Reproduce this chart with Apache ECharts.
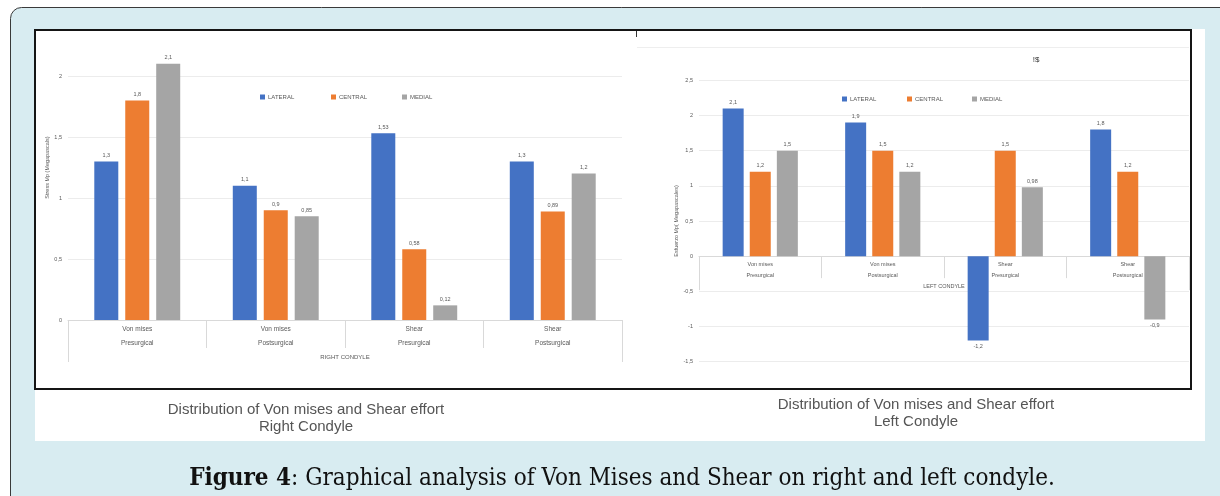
<!DOCTYPE html>
<html><head><meta charset="utf-8">
<script src="https://cdn.jsdelivr.net/npm/echarts@6/dist/echarts.min.js"></script>
<style>html,body{margin:0;padding:0;background:#fff}#c{width:1220px;height:496px}</style>
</head><body><div id="c"></div>
<script>
// ---- data ----
const seriesNames = ['LATERAL', 'CENTRAL', 'MEDIAL'];
const categories = ['Von mises\nPresurgical', 'Von mises\nPostsurgical', 'Shear\nPresurgical', 'Shear\nPostsurgical'];
const rightCondyleLateral = [1.3, 1.1, 1.53, 1.3];
const rightCondyleCentral = [1.8, 0.9, 0.58, 0.89];
const rightCondyleMedial = [2.1, 0.85, 0.12, 1.2];
const leftCondyleLateral = [2.1, 1.9, -1.2, 1.8];
const leftCondyleCentral = [1.2, 1.5, 1.5, 1.2];
const leftCondyleMedial = [1.5, 1.2, 0.98, -0.9];
const rightTicks = {min: 0, max: 2.5, interval: 0.5};
const leftTicks = {min: -1.5, max: 2.5, interval: 0.5};

// ---- styles ----
const colors = ['#4472C4', '#ED7D31', '#A5A5A5'];
const txt = '#595959';
const gridCol = '#ececec';
const tickCol = '#d9d9d9';
const FONT = 'Liberation Sans';
const comma = v => String(v).replace('.', ',');

const grid2 = {left: 699, right: 31, top: 80.4, bottom: 134.4};
const grid2H = 496 - grid2.top - grid2.bottom;
// move the category axis of the second chart up to its value-axis zero
const zeroOffset = -((0 - leftTicks.min) / (leftTicks.max - leftTicks.min)) * grid2H;

function mkData(arr) {
  return arr.map(v => v < 0 ? {value: v, label: {position: 'bottom'}} : v);
}
function bar(name, data, xi, yi, w, color) {
  return {
    type: 'bar', name, xAxisIndex: xi, yAxisIndex: yi, data: mkData(data),
    barWidth: w, barGap: '29%', itemStyle: {color},
    label: {show: true, position: 'top', distance: 3, fontSize: 5.5, color: txt, fontFamily: FONT,
      formatter: p => comma(p.value)}
  };
}
function yAx(gi, t, name, gap) {
  return {
    type: 'value', gridIndex: gi, min: t.min, max: t.max, interval: t.interval,
    name, nameLocation: 'middle', nameGap: gap,
    nameTextStyle: {fontSize: 5.5, color: txt, fontFamily: FONT},
    axisLine: {show: false}, axisTick: {show: false},
    axisLabel: {fontSize: 5.5, color: txt, fontFamily: FONT, margin: 6, showMaxLabel: gi === 1,
      formatter: v => comma(v)},
    splitLine: {show: true, showMaxLine: gi === 1, lineStyle: {color: gridCol, width: 1}}
  };
}
function xAx(gi, data, tickLen, fs, lh, margin, showLine, offset) {
  return {
    type: 'category', gridIndex: gi, data, position: 'bottom', offset: offset || 0,
    axisLine: {show: showLine, onZero: false, lineStyle: {color: tickCol}},
    axisTick: {show: true, length: tickLen, lineStyle: {color: tickCol}},
    axisLabel: {fontSize: fs, lineHeight: lh, margin, color: txt, fontFamily: FONT, interval: 0}
  };
}
function legendAt(name, left, top) {
  return {
    data: [name], left, top, itemWidth: 5, itemHeight: 5, icon: 'rect', itemGap: 0,
    textStyle: {fontSize: 6, color: txt, fontFamily: FONT, padding: [0, 0, 0, -2]},
    selectedMode: false
  };
}

const chart = echarts.init(document.getElementById('c'), null, {renderer: 'canvas'});
const option = {
  animation: false,
  color: colors,
  grid: [
    {left: 68, right: 598, top: 15, bottom: 176},
    grid2
  ],
  legend: [
    legendAt('LATERAL', 255, 89), legendAt('CENTRAL', 326, 89), legendAt('MEDIAL', 397, 89),
    legendAt('LATERAL', 837, 91), legendAt('CENTRAL', 902, 91), legendAt('MEDIAL', 967, 91)
  ],
  xAxis: [
    xAx(0, categories, 28, 6.5, 14, 2, true, 0),
    xAx(0, ['RIGHT CONDYLE'], 42, 6, 8, 33, false, 0),
    xAx(1, categories, 22, 5.5, 11, 2.5, true, zeroOffset),
    xAx(1, ['LEFT CONDYLE'], 34, 5.5, 8, 26, false, zeroOffset)
  ],
  yAxis: [
    yAx(0, rightTicks, 'Stress Mp (Megapascals)', 17),
    yAx(1, leftTicks, 'Esfuerzo Mp( Megapascales)', 16)
  ],
  series: [
    bar(seriesNames[0], rightCondyleLateral, 0, 0, 24, colors[0]),
    bar(seriesNames[1], rightCondyleCentral, 0, 0, 24, colors[1]),
    bar(seriesNames[2], rightCondyleMedial, 0, 0, 24, colors[2]),
    bar(seriesNames[0], leftCondyleLateral, 2, 1, 21, colors[0]),
    bar(seriesNames[1], leftCondyleCentral, 2, 1, 21, colors[1]),
    bar(seriesNames[2], leftCondyleMedial, 2, 1, 21, colors[2])
  ],
  graphic: [
    {type: 'rect', z: -100, silent: true, shape: {x: 10.5, y: 7.5, width: 1240, height: 520, r: 11},
      style: {fill: '#d8ecf1', stroke: '#3a3a3a', lineWidth: 1}},
    {type: 'rect', z: -99, silent: true, shape: {x: 35, y: 29, width: 1170, height: 412},
      style: {fill: '#ffffff'}},
    {type: 'line', z: -98, silent: true, shape: {x1: 637, y1: 47.5, x2: 1189, y2: 47.5},
      style: {stroke: '#eeeeee', lineWidth: 1}},
    {type: 'rect', z: 100, silent: true, shape: {x: 35, y: 30, width: 1156, height: 359},
      style: {fill: null, stroke: '#151515', lineWidth: 2}},
    {type: 'line', z: 100, silent: true, shape: {x1: 636.5, y1: 31, x2: 636.5, y2: 37},
      style: {stroke: '#333', lineWidth: 1}},
    {type: 'text', z: 100, silent: true, x: 1036, y: 60,
      style: {text: '!$', fill: '#333', font: '8px "Liberation Sans"', align: 'center', verticalAlign: 'middle'}},
    {type: 'text', z: 100, silent: true, x: 306, y: 418.5,
      style: {text: 'Distribution of Von mises and Shear effort\nRight Condyle', fill: '#555',
        font: '15px "Liberation Sans"', lineHeight: 17, align: 'center', verticalAlign: 'middle'}},
    {type: 'text', z: 100, silent: true, x: 916, y: 413.5,
      style: {text: 'Distribution of Von mises and Shear effort\nLeft Condyle', fill: '#555',
        font: '15px "Liberation Sans"', lineHeight: 17, align: 'center', verticalAlign: 'middle'}},
    {type: 'text', z: 100, silent: true, x: 622, y: 479,
      style: {text: '{b|Figure 4}{r|: Graphical analysis of Von Mises and Shear on right and left condyle.}',
        align: 'center', verticalAlign: 'middle',
        rich: {
          b: {fontFamily: '"DejaVu Serif Condensed"', fontSize: 24, fontWeight: 'bold', fill: '#111', color: '#111'},
          r: {fontFamily: '"DejaVu Serif Condensed"', fontSize: 24, fill: '#111', color: '#111'}
        }}}
  ]
};
chart.setOption(option);
</script>
</body></html>
